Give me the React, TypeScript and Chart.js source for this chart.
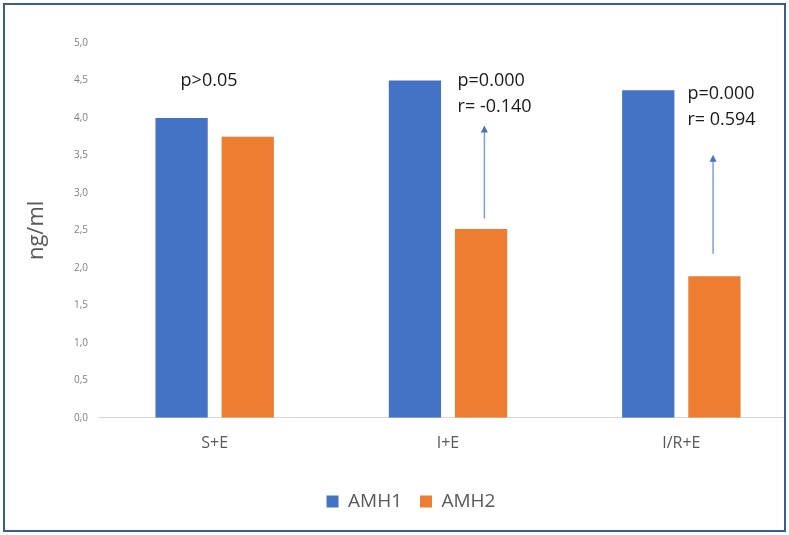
import React, { useEffect, useRef } from "react";
import { Chart, registerables } from "chart.js";

Chart.register(...registerables);

const categories = ["S+E", "I+E", "I/R+E"];
const amh1 = [4.0, 4.5, 4.37];
const amh2 = [3.75, 2.52, 1.89];
const seriesNames = ["AMH1", "AMH2"];

// annotation texts per category (lines), anchor value for first line, x offset (fraction of category width)
const noteLines = [["p>0.05"], ["p=0.000", "r= -0.140"], ["p=0.000", "r= 0.594"]];
const noteValue = [4.49, 4.49, 4.32];
const noteOffset = [-0.146, 0.041, 0.026];

// arrows: category index, x offset (fraction of category width), from value, to value
const arrowCat = [1, 2];
const arrowOffset = [0.156, 0.136];
const arrowFrom = [2.66, 2.19];
const arrowTo = [3.9, 3.51];

const BLUE = "#4472C4";
const ORANGE = "#ED7D31";
const FONT = "'Open Sans', 'Noto Sans', sans-serif";

const annotationPlugin = {
  id: "notes",
  afterDatasetsDraw(chart: any) {
    const ctx = chart.ctx;
    const xs = chart.scales.x;
    const ys = chart.scales.y;
    const catW = xs.width / categories.length;
    ctx.save();
    ctx.font = `18px ${FONT}`;
    ctx.fillStyle = "#1a1a1a";
    ctx.textAlign = "left";
    ctx.textBaseline = "middle";
    noteLines.forEach((lines, i) => {
      const x = xs.getPixelForTick(i) + noteOffset[i] * catW;
      const y = ys.getPixelForValue(noteValue[i]);
      lines.forEach((t, j) => ctx.fillText(t, x, y + j * 25.5));
    });
    arrowCat.forEach((c, i) => {
      const x = xs.getPixelForTick(c) + arrowOffset[i] * catW;
      const y1 = ys.getPixelForValue(arrowFrom[i]);
      const y2 = ys.getPixelForValue(arrowTo[i]);
      ctx.strokeStyle = "#7f9fd3";
      ctx.lineWidth = 1.5;
      ctx.beginPath();
      ctx.moveTo(x, y1);
      ctx.lineTo(x, y2 + 5);
      ctx.stroke();
      ctx.fillStyle = BLUE;
      ctx.beginPath();
      ctx.moveTo(x, y2);
      ctx.lineTo(x - 3.5, y2 + 7);
      ctx.lineTo(x + 3.5, y2 + 7);
      ctx.closePath();
      ctx.fill();
    });
    ctx.restore();
  },
};

export default function App() {
  const ref = useRef<HTMLCanvasElement | null>(null);
  useEffect(() => {
    if (!ref.current) return;
    const chart = new Chart(ref.current, {
      type: "bar",
      data: {
        labels: categories,
        datasets: [
          { label: seriesNames[0], data: amh1, backgroundColor: BLUE, barPercentage: 0.79, categoryPercentage: 0.567 },
          { label: seriesNames[1], data: amh2, backgroundColor: ORANGE, barPercentage: 0.79, categoryPercentage: 0.567 },
        ],
      },
      options: {
        responsive: false,
        animation: false,
        layout: { padding: { left: 24, right: 2, top: 43, bottom: 14 } },
        plugins: {
          tooltip: { enabled: false },
          legend: {
            position: "bottom",
            labels: {
              boxWidth: 12,
              boxHeight: 12,
              padding: 18,
              color: "#595959",
              font: { family: FONT, size: 19 },
            },
          },
        },
        scales: {
          x: {
            grid: { display: false, drawTicks: false },
            border: { display: true, color: "#d9d9d9", width: 1 },
            ticks: { padding: 16, color: "#595959", font: { family: FONT, size: 16 } },
            afterFit: (s: any) => {
              s.height += 5;
            },
          },
          y: {
            min: 0,
            max: 5,
            grid: { display: false, drawTicks: false },
            border: { display: false },
            afterFit: (s: any) => {
              s.width = 74;
            },
            ticks: {
              stepSize: 0.5,
              padding: 10,
              color: "#7f7f7f",
              font: { family: FONT, size: 10 },
              callback: (v: any) => Number(v).toFixed(1).replace(".", ","),
            },
            title: {
              display: true,
              text: "ng/ml",
              color: "#595959",
              padding: 0,
              font: { family: FONT, size: 22 },
            },
          },
        },
      },
      plugins: [annotationPlugin],
    });
    return () => chart.destroy();
  }, []);

  return (
    <div style={{ position: "absolute", left: 0, top: 0, width: 789, height: 535, background: "#fff" }}>
      <div
        style={{
          position: "absolute",
          left: 3,
          top: 3,
          width: 779,
          height: 525,
          border: "2px solid #3b5e91",
          overflow: "hidden",
          background: "#fff",
        }}
      >
        <canvas ref={ref} width={800} height={535} style={{ position: "absolute", left: -5, top: -5, width: 800, height: 535 }} />
      </div>
    </div>
  );
}
